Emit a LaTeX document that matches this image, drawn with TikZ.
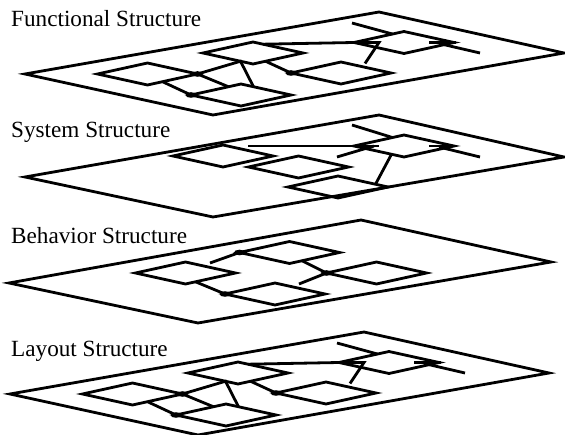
\documentclass[tikz,border=0pt]{standalone}
\usepackage{fontspec}
\setmainfont{Liberation Serif}
\usepackage{tikz}
\usetikzlibrary{shapes.geometric}
\usetikzlibrary{calc}
\tikzset{
    layer/.style={draw, line width=2.8pt, line join=miter},
    cell/.style={shape=diamond, draw, line width=2.8pt, minimum width=100pt,
        minimum height=22pt, inner sep=0pt, outer sep=0pt},
    net/.style={line width=2.8pt},
    title/.style={anchor=base west, inner sep=0pt, font=\fontsize{23.2}{28}\selectfont}}
\newcommand{\junction}[1]{\fill (#1) ellipse [x radius=5.5pt, y radius=2.8pt];}

% functional net, used again for the layout plane
\newcommand{\netlayer}{
    \draw[layer] (25,74) -- (379,12) -- (564,53) -- (213,115) -- cycle;
    \node[cell] (A) at (147.5,74) {};
    \node[cell] (C) at (253,53) {};
    \node[cell] (D) at (241,95) {};
    \node[cell] (E) at (404,42.5) {};
    \node[cell] (F) at (341,73) {};
    \coordinate (ctap) at ($(C.west)!0.75!(C.south)$);
    \coordinate (ein) at ($(E.west)+(25,0)$);
    \coordinate (eout) at ($(E.east)+(-25,0)$);
    \coordinate (efar) at (352,23);
    \coordinate (etail) at (480,53);
    \draw[net] (A.east) -- (ctap) -- ($(D.north)!0.25!(D.east)$);
    \draw[net] (A.east) -- ($(D.west)!0.75!(D.north)$);
    \draw[net] ($(A.east)!0.7!(A.south)$) -- (D.west);
    \draw[net] ($(C.south)!0.25!(C.east)$) -- (F.west);
    \draw[net] ($(C.north)!0.2!(C.east)$) -- (E.west) -- (ein) -- ++(-14,21);
    \draw[net] (efar) -- ($(E.west)!0.77!(E.north)$);
    \draw[net] (eout) -- ($(E.east)+(2,0)$);
    \draw[net] ($(eout)+(10,1)$) -- (etail);
    \junction{A.east}
    \junction{D.west}
    \junction{F.west}
}

\begin{document}
\begin{tikzpicture}[x=1pt, y=-1pt]
    \useasboundingbox (0,0) rectangle (565,435);

    % functional
    \node[title] (functitle) at (11,27) {Functional Structure};
    \begin{scope}[name prefix=fn-]
        \netlayer
    \end{scope}

    % system
    \node[title] (systitle) at (11,138) {System Structure};
    \draw[layer] (25,177) -- (379,115) -- (564,157) -- (213,217) -- cycle;
    \node[cell] (G) at (223,156) {};
    \node[cell] (H) at (298.5,167) {};
    \node[cell] (I) at (404,146) {};
    \node[cell] (J) at (338,187) {};
    \coordinate (hstart) at (248,146);
    \coordinate (istub) at (337,157);
    \coordinate (ifar) at (352,125);
    \coordinate (itail) at (480,157);
    \draw[net] (hstart) -- (I.west) -- ($(I.west)+(25,0)$);
    \draw[net] (istub) -- ($(I.west)+(20,0)$);
    \draw[net] (ifar) -- ($(I.west)!0.77!(I.north)$);
    \draw[net] ($(I.east)+(-25,0)$) -- ($(I.east)+(2,0)$);
    \draw[net] ($(I.east)+(-15,1)$) -- (itail);
    \draw[net] ($(I.west)!0.75!(I.south)$) -- ($(J.north)!0.75!(J.east)$);

    % behavior
    \node[title] (behtitle) at (11,244) {Behavior Structure};
    \draw[layer] (9,283) -- (361,220) -- (551,262) -- (198,323) -- cycle;
    \node[cell] (K) at (185.5,273) {};
    \node[cell] (M) at (289.5,252.5) {};
    \node[cell] (N) at (376.5,273) {};
    \node[cell] (P) at (275,294) {};
    \coordinate (min) at (210,263);
    \coordinate (nin) at (299,284);
    \draw[net] (min) -- (M.west);
    \draw[net] ($(M.south)!0.25!(M.east)$) -- (N.west);
    \draw[net] (nin) -- (N.west);
    \draw[net] ($(K.south)!0.2!(K.east)$) -- (P.west);
    \junction{M.west}
    \junction{N.west}
    \junction{P.west}

    % layout
    \node[title] (laytitle) at (11,357) {Layout Structure};
    \begin{scope}[shift={(-15,320)}, name prefix=ly-]
        \netlayer
    \end{scope}
\end{tikzpicture}
\end{document}
